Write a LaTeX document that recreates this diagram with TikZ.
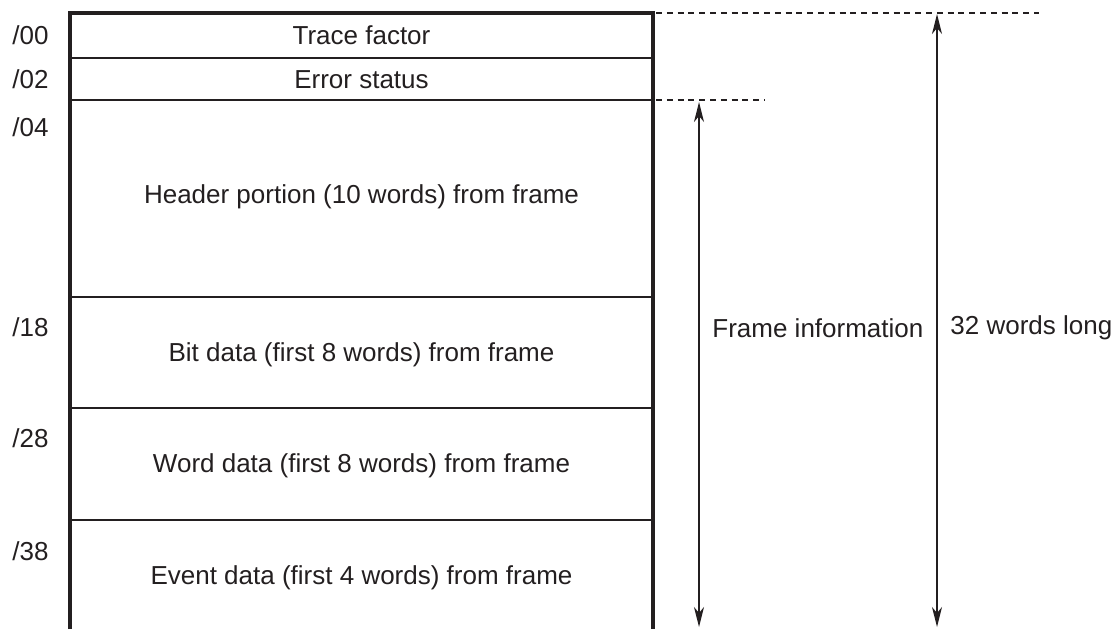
\documentclass[tikz,border=0pt]{standalone}
\usepackage{fontspec}
\setmainfont{Liberation Sans}
\usepackage{xcolor}
\usetikzlibrary{positioning, arrows.meta, calc}
\definecolor{diagline}{HTML}{231F20}

\begin{document}
\begin{tikzpicture}[x=0.5pt, y=-0.5pt, font=\fontsize{13}{15}\selectfont, text=diagline,
  frame/.style={draw=diagline, line width=2pt},
  divider/.style={draw=diagline, line width=1.2pt},
  guide/.style={draw=diagline, line width=0.8pt, dash pattern=on 3pt off 2.4pt},
  span/.style={{Stealth[length=10pt,width=5pt,inset=3pt]}-{Stealth[length=10pt,width=5pt,inset=3pt]}, draw=diagline, line width=0.8pt},
  addr/.style={anchor=west, inner sep=0pt},
  cell/.style={inner sep=0pt}]
\useasboundingbox (0,0) rectangle (1117,629);

% corners of the trace area
\coordinate (tl) at (70,13);
\coordinate (tr) at (653,13);
\coordinate (bl) at (70,629);
\coordinate (br) at (653,629);
\coordinate (er) at (653,100);

\draw[divider] (70,58)--(653,58);
\draw[divider] (70,100)--(653,100);
\draw[divider] (70,297)--(653,297);
\draw[divider] (70,408)--(653,408);
\draw[divider] (70,520)--(653,520);
\draw[frame] (bl)--(tl)--(tr)--(br);

\node[cell](tf) at (361.5,35){Trace factor};
\node[cell](es) at (361.5,80){Error status};
\node[cell](hd) at (361.5,197){Header portion (10 words) from frame};
\node[cell](bd) at (361.5,355){Bit data (first 8 words) from frame};
\node[cell](wd) at (361.5,466){Word data (first 8 words) from frame};
\node[cell](ed) at (361.5,578){Event data (first 4 words) from frame};

\node[addr](a00) at (12,35){/00};
\node[addr](a02) at (12,79){/02};
\node[addr](a04) at (12,127){/04};
\node[addr](a18) at (12,327){/18};
\node[addr](a28) at (12,438){/28};
\node[addr](a38) at (12,551){/38};

% dimension lines on the right
\coordinate (longEnd) at (1039,13);
\coordinate (infoEnd) at (765,100);
\draw[guide] ($(tr)+(3,0)$)--(longEnd);
\draw[guide] ($(er)+(3,0)$)--(infoEnd);

\coordinate (infoTop) at (699,102);
\coordinate (infoBot) at (699,627);
\coordinate (longTop) at (937,14);
\coordinate (longBot) at (937,627);
\draw[span](infoTop)--(infoBot);
\draw[span](longTop)--(longBot);

\node[addr](info) at (712,328){Frame information};
\node[addr](long) at (950,328){32 words long};

\end{tikzpicture}
\end{document}
